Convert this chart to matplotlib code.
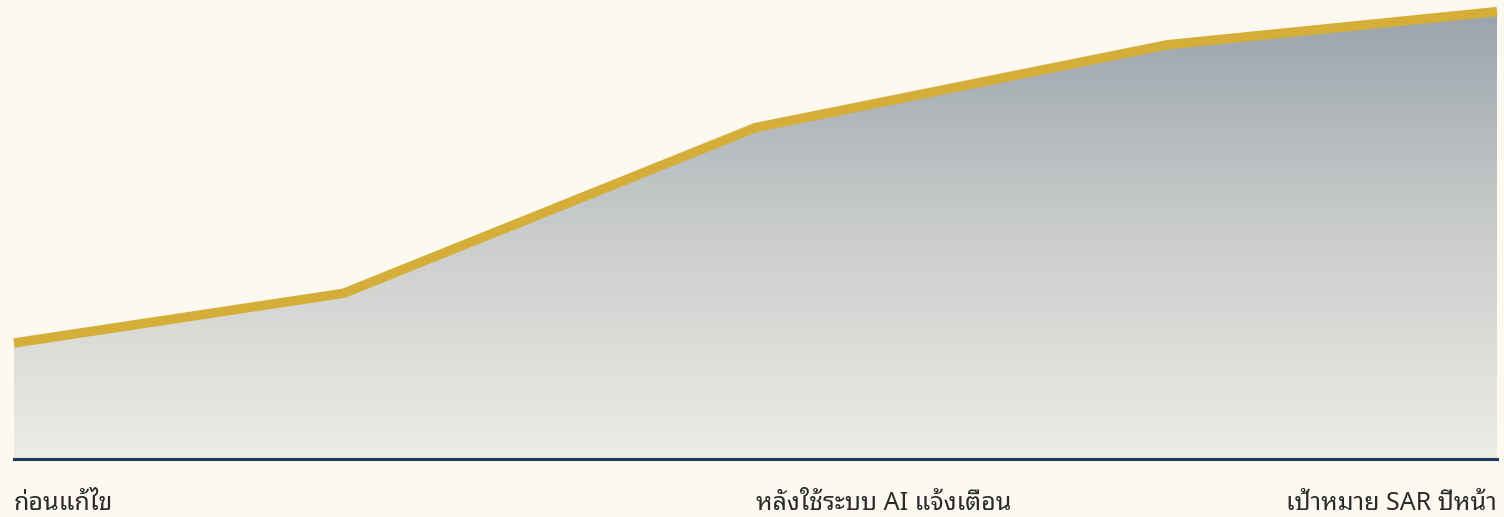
import matplotlib
matplotlib.use("Agg")
import matplotlib.pyplot as plt
import numpy as np
from matplotlib.colors import LinearSegmentedColormap

# Data
x_pos = [0, 2, 4.5, 7, 9]
values = [35, 50, 100, 125, 135]
label_pos = [0, 4.5, 9]
labels = ["ก่อนแก้ไข", "หลังใช้ระบบ AI แจ้งเตือน", "เป้าหมาย SAR ปีหน้า"]

BG = "#FCFAF0"
YMAX = 138.5
fig = plt.figure(figsize=(15.04, 5.17), dpi=100, facecolor=BG)
ax = fig.add_axes([14/1504, 1-459/517, (1497-14)/1504, 459/517])
ax.set_facecolor(BG)
ax.set_xlim(0, 9)
ax.set_ylim(0, YMAX)

cmap = LinearSegmentedColormap.from_list("g", ["#EDEDE6", "#C9CCCB", "#98A2AB"])
grad = np.linspace(0, 1, 256).reshape(-1, 1)
im = ax.imshow(grad, cmap=cmap, aspect="auto", extent=[0, 9, 0, YMAX],
               origin="lower", zorder=1, interpolation="bilinear")
poly = ax.fill_between(x_pos, values, 0, color="none", lw=0, zorder=1)
im.set_clip_path(poly.get_paths()[0], transform=ax.transData)

ax.plot(x_pos, values, color="#D4AE38", lw=6.8, solid_joinstyle="miter",
        solid_capstyle="butt", zorder=3, clip_on=False)
ax.axhline(0, color="#1E3A5F", lw=2.2, zorder=4, clip_on=False)

for s in ax.spines.values():
    s.set_visible(False)
ax.set_xticks([])
ax.set_yticks([])

px_per_unit = 459 / YMAX
aligns = ["left", "left", "right"]
for p, l, a in zip(label_pos, labels, aligns):
    ax.text(p, -51 / px_per_unit, l, ha=a, va="baseline", fontsize=18,
            color="#2A2A2A", family=["Noto Sans Thai Looped", "DejaVu Sans"],
            clip_on=False)

fig.savefig("out.png", dpi=100, facecolor=BG)
